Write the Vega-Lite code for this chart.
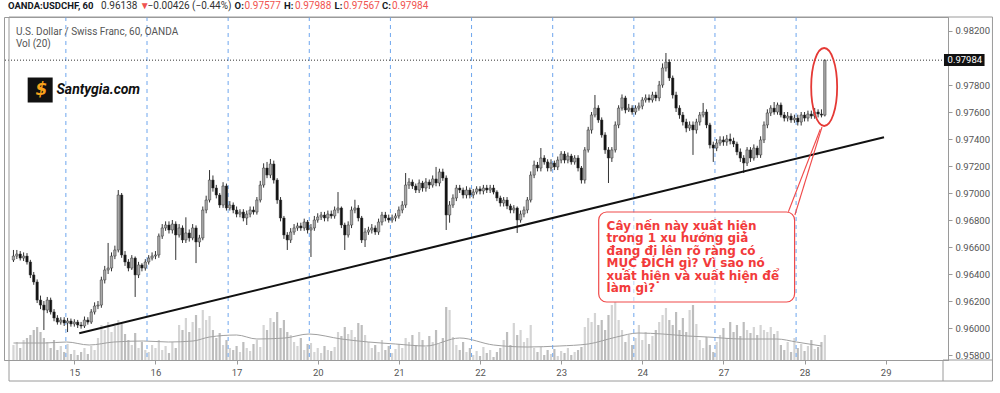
{
"$schema":"https://vega.github.io/schema/vega-lite/v6.json",
"width":944,"height":343,
"autosize":{"type":"none"},
"padding":{"left":4,"top":17,"right":52,"bottom":33},
"background":"#ffffff",
"config":{"view":{"stroke":"#9a9a9a","strokeWidth":1},"axis":{"grid":false,"domainColor":"#9a9a9a","tickColor":"#9a9a9a","labelColor":"#555555","labelFont":"Roboto","labelFontSize":9.5,"tickSize":4}},
"datasets":{
"k":[
{"h":-18,"o":0.96504,"hi":0.96578,"lo":0.96489,"c":0.96533,"v":15},
{"h":-17,"o":0.96533,"hi":0.96578,"lo":0.96511,"c":0.96548,"v":18},
{"h":-16,"o":0.96548,"hi":0.96570,"lo":0.96500,"c":0.96518,"v":12},
{"h":-15,"o":0.96518,"hi":0.96560,"lo":0.96496,"c":0.96533,"v":20},
{"h":-14,"o":0.96533,"hi":0.96555,"lo":0.96470,"c":0.96489,"v":22},
{"h":-13,"o":0.96489,"hi":0.96505,"lo":0.96370,"c":0.96393,"v":25},
{"h":-12,"o":0.96393,"hi":0.96415,"lo":0.96320,"c":0.96341,"v":30},
{"h":-11,"o":0.96341,"hi":0.96360,"lo":0.96185,"c":0.96207,"v":33},
{"h":-10,"o":0.96207,"hi":0.96240,"lo":0.96140,"c":0.96170,"v":28},
{"h":-9,"o":0.96170,"hi":0.96200,"lo":0.95985,"c":0.96133,"v":22},
{"h":-8,"o":0.96133,"hi":0.96230,"lo":0.96110,"c":0.96207,"v":18},
{"h":-7,"o":0.96207,"hi":0.96225,"lo":0.96100,"c":0.96119,"v":12},
{"h":-6,"o":0.96119,"hi":0.96140,"lo":0.96050,"c":0.96074,"v":20},
{"h":-5,"o":0.96074,"hi":0.96095,"lo":0.96025,"c":0.96044,"v":10},
{"h":-4,"o":0.96044,"hi":0.96080,"lo":0.96025,"c":0.96059,"v":14},
{"h":-3,"o":0.96059,"hi":0.96080,"lo":0.96015,"c":0.96037,"v":8},
{"h":-2,"o":0.96037,"hi":0.96075,"lo":0.95970,"c":0.96052,"v":16},
{"h":-1,"o":0.96052,"hi":0.96070,"lo":0.96010,"c":0.96030,"v":6},
{"h":0,"o":0.96030,"hi":0.96065,"lo":0.96010,"c":0.96044,"v":10},
{"h":1,"o":0.96044,"hi":0.96060,"lo":0.96000,"c":0.96022,"v":5},
{"h":2,"o":0.96022,"hi":0.96045,"lo":0.95995,"c":0.96015,"v":8},
{"h":3,"o":0.96015,"hi":0.96085,"lo":0.96000,"c":0.96059,"v":12},
{"h":4,"o":0.96059,"hi":0.96080,"lo":0.96025,"c":0.96044,"v":6},
{"h":5,"o":0.96044,"hi":0.96140,"lo":0.96030,"c":0.96119,"v":14},
{"h":6,"o":0.96119,"hi":0.96190,"lo":0.96100,"c":0.96163,"v":10},
{"h":7,"o":0.96163,"hi":0.96200,"lo":0.96140,"c":0.96170,"v":22},
{"h":8,"o":0.96170,"hi":0.96380,"lo":0.96150,"c":0.96356,"v":35},
{"h":9,"o":0.96356,"hi":0.96460,"lo":0.96330,"c":0.96430,"v":30},
{"h":10,"o":0.96430,"hi":0.96630,"lo":0.96400,"c":0.96444,"v":38},
{"h":11,"o":0.96444,"hi":0.96560,"lo":0.96420,"c":0.96533,"v":28},
{"h":12,"o":0.96533,"hi":0.96610,"lo":0.96510,"c":0.96578,"v":34},
{"h":13,"o":0.96578,"hi":0.97022,"lo":0.96560,"c":0.96985,"v":40},
{"h":14,"o":0.96985,"hi":0.97000,"lo":0.96520,"c":0.96541,"v":36},
{"h":15,"o":0.96541,"hi":0.96570,"lo":0.96460,"c":0.96489,"v":26},
{"h":16,"o":0.96489,"hi":0.96510,"lo":0.96420,"c":0.96444,"v":20},
{"h":17,"o":0.96444,"hi":0.96540,"lo":0.96430,"c":0.96518,"v":15},
{"h":18,"o":0.96518,"hi":0.96530,"lo":0.96230,"c":0.96393,"v":27},
{"h":19,"o":0.96393,"hi":0.96490,"lo":0.96370,"c":0.96467,"v":12},
{"h":20,"o":0.96467,"hi":0.96480,"lo":0.96420,"c":0.96444,"v":18},
{"h":21,"o":0.96444,"hi":0.96510,"lo":0.96425,"c":0.96489,"v":10},
{"h":22,"o":0.96489,"hi":0.96540,"lo":0.96470,"c":0.96518,"v":8},
{"h":23,"o":0.96518,"hi":0.96560,"lo":0.96500,"c":0.96533,"v":15},
{"h":24,"o":0.96533,"hi":0.96570,"lo":0.96510,"c":0.96541,"v":12},
{"h":25,"o":0.96541,"hi":0.96700,"lo":0.96520,"c":0.96681,"v":20},
{"h":26,"o":0.96681,"hi":0.96770,"lo":0.96660,"c":0.96741,"v":10},
{"h":27,"o":0.96741,"hi":0.96790,"lo":0.96720,"c":0.96763,"v":14},
{"h":28,"o":0.96763,"hi":0.96790,"lo":0.96700,"c":0.96726,"v":7},
{"h":29,"o":0.96726,"hi":0.96800,"lo":0.96700,"c":0.96770,"v":18},
{"h":30,"o":0.96770,"hi":0.96790,"lo":0.96504,"c":0.96689,"v":12},
{"h":31,"o":0.96689,"hi":0.96770,"lo":0.96670,"c":0.96741,"v":35},
{"h":32,"o":0.96741,"hi":0.96760,"lo":0.96630,"c":0.96652,"v":30},
{"h":33,"o":0.96652,"hi":0.96820,"lo":0.96630,"c":0.96704,"v":42},
{"h":34,"o":0.96704,"hi":0.96730,"lo":0.96640,"c":0.96667,"v":28},
{"h":35,"o":0.96667,"hi":0.96770,"lo":0.96650,"c":0.96741,"v":38},
{"h":36,"o":0.96741,"hi":0.96760,"lo":0.96481,"c":0.96637,"v":45},
{"h":37,"o":0.96637,"hi":0.96690,"lo":0.96600,"c":0.96667,"v":32},
{"h":38,"o":0.96667,"hi":0.96900,"lo":0.96650,"c":0.96874,"v":50},
{"h":39,"o":0.96874,"hi":0.96980,"lo":0.96850,"c":0.96948,"v":40},
{"h":40,"o":0.96948,"hi":0.97170,"lo":0.96930,"c":0.97096,"v":44},
{"h":41,"o":0.97096,"hi":0.97130,"lo":0.97010,"c":0.97037,"v":30},
{"h":42,"o":0.97037,"hi":0.97060,"lo":0.96960,"c":0.96985,"v":22},
{"h":43,"o":0.96985,"hi":0.97000,"lo":0.96890,"c":0.96911,"v":27},
{"h":44,"o":0.96911,"hi":0.97080,"lo":0.96890,"c":0.97052,"v":15},
{"h":45,"o":0.97052,"hi":0.97070,"lo":0.96870,"c":0.96889,"v":20},
{"h":46,"o":0.96889,"hi":0.96940,"lo":0.96870,"c":0.96911,"v":12},
{"h":47,"o":0.96911,"hi":0.96930,"lo":0.96850,"c":0.96874,"v":10},
{"h":48,"o":0.96874,"hi":0.96900,"lo":0.96820,"c":0.96844,"v":14},
{"h":49,"o":0.96844,"hi":0.96880,"lo":0.96820,"c":0.96859,"v":8},
{"h":50,"o":0.96859,"hi":0.96880,"lo":0.96790,"c":0.96815,"v":18},
{"h":51,"o":0.96815,"hi":0.96870,"lo":0.96763,"c":0.96844,"v":12},
{"h":52,"o":0.96844,"hi":0.96900,"lo":0.96820,"c":0.96874,"v":9},
{"h":53,"o":0.96874,"hi":0.96900,"lo":0.96840,"c":0.96859,"v":16},
{"h":54,"o":0.96859,"hi":0.96970,"lo":0.96840,"c":0.96948,"v":20},
{"h":55,"o":0.96948,"hi":0.97090,"lo":0.96930,"c":0.97059,"v":13},
{"h":56,"o":0.97059,"hi":0.97220,"lo":0.97040,"c":0.97185,"v":35},
{"h":57,"o":0.97185,"hi":0.97230,"lo":0.97110,"c":0.97133,"v":30},
{"h":58,"o":0.97133,"hi":0.97252,"lo":0.97110,"c":0.97215,"v":42},
{"h":59,"o":0.97215,"hi":0.97240,"lo":0.97070,"c":0.97096,"v":38},
{"h":60,"o":0.97096,"hi":0.97110,"lo":0.96920,"c":0.96948,"v":48},
{"h":61,"o":0.96948,"hi":0.96970,"lo":0.96790,"c":0.96815,"v":32},
{"h":62,"o":0.96815,"hi":0.96830,"lo":0.96660,"c":0.96689,"v":40},
{"h":63,"o":0.96689,"hi":0.96710,"lo":0.96578,"c":0.96652,"v":28},
{"h":64,"o":0.96652,"hi":0.96740,"lo":0.96630,"c":0.96711,"v":25},
{"h":65,"o":0.96711,"hi":0.96770,"lo":0.96690,"c":0.96741,"v":18},
{"h":66,"o":0.96741,"hi":0.96780,"lo":0.96720,"c":0.96756,"v":14},
{"h":67,"o":0.96756,"hi":0.96780,"lo":0.96720,"c":0.96741,"v":22},
{"h":68,"o":0.96741,"hi":0.96810,"lo":0.96720,"c":0.96785,"v":10},
{"h":69,"o":0.96785,"hi":0.96800,"lo":0.96700,"c":0.96726,"v":16},
{"h":70,"o":0.96726,"hi":0.96770,"lo":0.96526,"c":0.96741,"v":17},
{"h":71,"o":0.96741,"hi":0.96830,"lo":0.96720,"c":0.96800,"v":8},
{"h":72,"o":0.96800,"hi":0.96850,"lo":0.96780,"c":0.96822,"v":12},
{"h":73,"o":0.96822,"hi":0.96860,"lo":0.96800,"c":0.96837,"v":7},
{"h":74,"o":0.96837,"hi":0.96860,"lo":0.96790,"c":0.96815,"v":14},
{"h":75,"o":0.96815,"hi":0.96870,"lo":0.96790,"c":0.96844,"v":10},
{"h":76,"o":0.96844,"hi":0.96870,"lo":0.96810,"c":0.96830,"v":9},
{"h":77,"o":0.96830,"hi":0.96900,"lo":0.96810,"c":0.96874,"v":13},
{"h":78,"o":0.96874,"hi":0.97007,"lo":0.96850,"c":0.96889,"v":28},
{"h":79,"o":0.96889,"hi":0.96900,"lo":0.96740,"c":0.96763,"v":24},
{"h":80,"o":0.96763,"hi":0.96780,"lo":0.96578,"c":0.96689,"v":33},
{"h":81,"o":0.96689,"hi":0.96790,"lo":0.96670,"c":0.96763,"v":26},
{"h":82,"o":0.96763,"hi":0.96900,"lo":0.96740,"c":0.96874,"v":30},
{"h":83,"o":0.96874,"hi":0.96950,"lo":0.96850,"c":0.96889,"v":23},
{"h":84,"o":0.96889,"hi":0.96910,"lo":0.96790,"c":0.96815,"v":37},
{"h":85,"o":0.96815,"hi":0.96830,"lo":0.96630,"c":0.96652,"v":35},
{"h":86,"o":0.96652,"hi":0.96740,"lo":0.96600,"c":0.96711,"v":25},
{"h":87,"o":0.96711,"hi":0.96750,"lo":0.96690,"c":0.96726,"v":18},
{"h":88,"o":0.96726,"hi":0.96770,"lo":0.96700,"c":0.96741,"v":12},
{"h":89,"o":0.96741,"hi":0.96760,"lo":0.96690,"c":0.96711,"v":15},
{"h":90,"o":0.96711,"hi":0.96810,"lo":0.96690,"c":0.96785,"v":8},
{"h":91,"o":0.96785,"hi":0.96860,"lo":0.96760,"c":0.96837,"v":20},
{"h":92,"o":0.96837,"hi":0.96860,"lo":0.96790,"c":0.96815,"v":10},
{"h":93,"o":0.96815,"hi":0.96840,"lo":0.96780,"c":0.96800,"v":14},
{"h":94,"o":0.96800,"hi":0.96840,"lo":0.96780,"c":0.96815,"v":7},
{"h":95,"o":0.96815,"hi":0.96850,"lo":0.96790,"c":0.96830,"v":11},
{"h":96,"o":0.96830,"hi":0.96900,"lo":0.96810,"c":0.96874,"v":16},
{"h":97,"o":0.96874,"hi":0.96940,"lo":0.96850,"c":0.96911,"v":12},
{"h":98,"o":0.96911,"hi":0.97148,"lo":0.96890,"c":0.97059,"v":22},
{"h":99,"o":0.97059,"hi":0.97110,"lo":0.97030,"c":0.97081,"v":18},
{"h":100,"o":0.97081,"hi":0.97100,"lo":0.97030,"c":0.97052,"v":25},
{"h":101,"o":0.97052,"hi":0.97070,"lo":0.97000,"c":0.97022,"v":15},
{"h":102,"o":0.97022,"hi":0.97100,"lo":0.97000,"c":0.97074,"v":28},
{"h":103,"o":0.97074,"hi":0.97090,"lo":0.97010,"c":0.97037,"v":20},
{"h":104,"o":0.97037,"hi":0.97110,"lo":0.97010,"c":0.97081,"v":13},
{"h":105,"o":0.97081,"hi":0.97100,"lo":0.97030,"c":0.97059,"v":24},
{"h":106,"o":0.97059,"hi":0.97130,"lo":0.97040,"c":0.97104,"v":18},
{"h":107,"o":0.97104,"hi":0.97193,"lo":0.97050,"c":0.97074,"v":30},
{"h":108,"o":0.97074,"hi":0.97180,"lo":0.97050,"c":0.97156,"v":16},
{"h":109,"o":0.97156,"hi":0.97180,"lo":0.97090,"c":0.97111,"v":22},
{"h":110,"o":0.97111,"hi":0.97130,"lo":0.96726,"c":0.96837,"v":53},
{"h":111,"o":0.96837,"hi":0.96940,"lo":0.96780,"c":0.96911,"v":50},
{"h":112,"o":0.96911,"hi":0.96990,"lo":0.96890,"c":0.96963,"v":23},
{"h":113,"o":0.96963,"hi":0.97060,"lo":0.96940,"c":0.97037,"v":15},
{"h":114,"o":0.97037,"hi":0.97060,"lo":0.97000,"c":0.97022,"v":10},
{"h":115,"o":0.97022,"hi":0.97040,"lo":0.96960,"c":0.96985,"v":18},
{"h":116,"o":0.96985,"hi":0.97050,"lo":0.96960,"c":0.97022,"v":8},
{"h":117,"o":0.97022,"hi":0.97040,"lo":0.96960,"c":0.96985,"v":12},
{"h":118,"o":0.96985,"hi":0.97030,"lo":0.96960,"c":0.97007,"v":5},
{"h":119,"o":0.97007,"hi":0.97050,"lo":0.96990,"c":0.97030,"v":9},
{"h":120,"o":0.97030,"hi":0.97050,"lo":0.96990,"c":0.97015,"v":4},
{"h":121,"o":0.97015,"hi":0.97060,"lo":0.96990,"c":0.97037,"v":13},
{"h":122,"o":0.97037,"hi":0.97060,"lo":0.97000,"c":0.97022,"v":7},
{"h":123,"o":0.97022,"hi":0.97060,"lo":0.97000,"c":0.97037,"v":10},
{"h":124,"o":0.97037,"hi":0.97060,"lo":0.96990,"c":0.97007,"v":3},
{"h":125,"o":0.97007,"hi":0.97020,"lo":0.96940,"c":0.96963,"v":8},
{"h":126,"o":0.96963,"hi":0.96980,"lo":0.96900,"c":0.96926,"v":12},
{"h":127,"o":0.96926,"hi":0.96970,"lo":0.96900,"c":0.96948,"v":20},
{"h":128,"o":0.96948,"hi":0.96970,"lo":0.96880,"c":0.96904,"v":28},
{"h":129,"o":0.96904,"hi":0.96920,"lo":0.96850,"c":0.96874,"v":15},
{"h":130,"o":0.96874,"hi":0.96910,"lo":0.96850,"c":0.96889,"v":37},
{"h":131,"o":0.96889,"hi":0.96900,"lo":0.96704,"c":0.96800,"v":25},
{"h":132,"o":0.96800,"hi":0.96870,"lo":0.96780,"c":0.96844,"v":30},
{"h":133,"o":0.96844,"hi":0.96900,"lo":0.96820,"c":0.96874,"v":18},
{"h":134,"o":0.96874,"hi":0.96970,"lo":0.96850,"c":0.96948,"v":22},
{"h":135,"o":0.96948,"hi":0.97160,"lo":0.96930,"c":0.97133,"v":35},
{"h":136,"o":0.97133,"hi":0.97240,"lo":0.97110,"c":0.97207,"v":12},
{"h":137,"o":0.97207,"hi":0.97230,"lo":0.97160,"c":0.97185,"v":8},
{"h":138,"o":0.97185,"hi":0.97333,"lo":0.97160,"c":0.97259,"v":13},
{"h":139,"o":0.97259,"hi":0.97280,"lo":0.97210,"c":0.97230,"v":5},
{"h":140,"o":0.97230,"hi":0.97250,"lo":0.97160,"c":0.97185,"v":10},
{"h":141,"o":0.97185,"hi":0.97250,"lo":0.97160,"c":0.97222,"v":6},
{"h":142,"o":0.97222,"hi":0.97240,"lo":0.97170,"c":0.97193,"v":11},
{"h":143,"o":0.97193,"hi":0.97270,"lo":0.97170,"c":0.97244,"v":4},
{"h":144,"o":0.97244,"hi":0.97310,"lo":0.97220,"c":0.97289,"v":9},
{"h":145,"o":0.97289,"hi":0.97310,"lo":0.97220,"c":0.97244,"v":7},
{"h":146,"o":0.97244,"hi":0.97300,"lo":0.97220,"c":0.97274,"v":12},
{"h":147,"o":0.97274,"hi":0.97290,"lo":0.97210,"c":0.97230,"v":5},
{"h":148,"o":0.97230,"hi":0.97280,"lo":0.97210,"c":0.97259,"v":8},
{"h":149,"o":0.97259,"hi":0.97280,"lo":0.97160,"c":0.97185,"v":10},
{"h":150,"o":0.97185,"hi":0.97200,"lo":0.97070,"c":0.97096,"v":13},
{"h":151,"o":0.97096,"hi":0.97340,"lo":0.97070,"c":0.97319,"v":33},
{"h":152,"o":0.97319,"hi":0.97490,"lo":0.97300,"c":0.97467,"v":42},
{"h":153,"o":0.97467,"hi":0.97600,"lo":0.97440,"c":0.97578,"v":38},
{"h":154,"o":0.97578,"hi":0.97726,"lo":0.97560,"c":0.97629,"v":47},
{"h":155,"o":0.97629,"hi":0.97650,"lo":0.97520,"c":0.97541,"v":35},
{"h":156,"o":0.97541,"hi":0.97560,"lo":0.97410,"c":0.97430,"v":40},
{"h":157,"o":0.97430,"hi":0.97450,"lo":0.97290,"c":0.97319,"v":30},
{"h":158,"o":0.97319,"hi":0.97340,"lo":0.97074,"c":0.97259,"v":45},
{"h":159,"o":0.97259,"hi":0.97340,"lo":0.97230,"c":0.97319,"v":55},
{"h":160,"o":0.97319,"hi":0.97530,"lo":0.97300,"c":0.97504,"v":58},
{"h":161,"o":0.97504,"hi":0.97650,"lo":0.97480,"c":0.97629,"v":40},
{"h":162,"o":0.97629,"hi":0.97730,"lo":0.97610,"c":0.97704,"v":30},
{"h":163,"o":0.97704,"hi":0.97720,"lo":0.97590,"c":0.97615,"v":18},
{"h":164,"o":0.97615,"hi":0.97660,"lo":0.97600,"c":0.97629,"v":25},
{"h":165,"o":0.97629,"hi":0.97650,"lo":0.97580,"c":0.97600,"v":15},
{"h":166,"o":0.97600,"hi":0.97650,"lo":0.97580,"c":0.97629,"v":22},
{"h":167,"o":0.97629,"hi":0.97670,"lo":0.97610,"c":0.97644,"v":35},
{"h":168,"o":0.97644,"hi":0.97710,"lo":0.97620,"c":0.97689,"v":20},
{"h":169,"o":0.97689,"hi":0.97730,"lo":0.97670,"c":0.97704,"v":28},
{"h":170,"o":0.97704,"hi":0.97730,"lo":0.97670,"c":0.97689,"v":16},
{"h":171,"o":0.97689,"hi":0.97750,"lo":0.97670,"c":0.97726,"v":24},
{"h":172,"o":0.97726,"hi":0.97750,"lo":0.97680,"c":0.97704,"v":30},
{"h":173,"o":0.97704,"hi":0.97830,"lo":0.97680,"c":0.97800,"v":38},
{"h":174,"o":0.97800,"hi":0.97960,"lo":0.97780,"c":0.97926,"v":45},
{"h":175,"o":0.97926,"hi":0.98037,"lo":0.97900,"c":0.97970,"v":52},
{"h":176,"o":0.97970,"hi":0.97990,"lo":0.97830,"c":0.97852,"v":40},
{"h":177,"o":0.97852,"hi":0.97870,"lo":0.97700,"c":0.97726,"v":35},
{"h":178,"o":0.97726,"hi":0.97750,"lo":0.97600,"c":0.97629,"v":48},
{"h":179,"o":0.97629,"hi":0.97650,"lo":0.97550,"c":0.97578,"v":30},
{"h":180,"o":0.97578,"hi":0.97600,"lo":0.97500,"c":0.97526,"v":42},
{"h":181,"o":0.97526,"hi":0.97550,"lo":0.97450,"c":0.97481,"v":28},
{"h":182,"o":0.97481,"hi":0.97530,"lo":0.97460,"c":0.97504,"v":50},
{"h":183,"o":0.97504,"hi":0.97530,"lo":0.97282,"c":0.97467,"v":55},
{"h":184,"o":0.97467,"hi":0.97550,"lo":0.97440,"c":0.97526,"v":36},
{"h":185,"o":0.97526,"hi":0.97600,"lo":0.97500,"c":0.97578,"v":20},
{"h":186,"o":0.97578,"hi":0.97667,"lo":0.97560,"c":0.97600,"v":12},
{"h":187,"o":0.97600,"hi":0.97620,"lo":0.97480,"c":0.97504,"v":23},
{"h":188,"o":0.97504,"hi":0.97520,"lo":0.97330,"c":0.97356,"v":15},
{"h":189,"o":0.97356,"hi":0.97380,"lo":0.97230,"c":0.97333,"v":8},
{"h":190,"o":0.97333,"hi":0.97400,"lo":0.97310,"c":0.97370,"v":18},
{"h":191,"o":0.97370,"hi":0.97420,"lo":0.97350,"c":0.97393,"v":25},
{"h":192,"o":0.97393,"hi":0.97420,"lo":0.97350,"c":0.97378,"v":32},
{"h":193,"o":0.97378,"hi":0.97430,"lo":0.97350,"c":0.97400,"v":22},
{"h":194,"o":0.97400,"hi":0.97440,"lo":0.97360,"c":0.97385,"v":38},
{"h":195,"o":0.97385,"hi":0.97410,"lo":0.97340,"c":0.97363,"v":28},
{"h":196,"o":0.97363,"hi":0.97380,"lo":0.97280,"c":0.97304,"v":35},
{"h":197,"o":0.97304,"hi":0.97330,"lo":0.97230,"c":0.97259,"v":24},
{"h":198,"o":0.97259,"hi":0.97280,"lo":0.97148,"c":0.97222,"v":38},
{"h":199,"o":0.97222,"hi":0.97340,"lo":0.97200,"c":0.97319,"v":30},
{"h":200,"o":0.97319,"hi":0.97340,"lo":0.97230,"c":0.97259,"v":27},
{"h":201,"o":0.97259,"hi":0.97360,"lo":0.97240,"c":0.97333,"v":33},
{"h":202,"o":0.97333,"hi":0.97350,"lo":0.97260,"c":0.97282,"v":25},
{"h":203,"o":0.97282,"hi":0.97420,"lo":0.97260,"c":0.97393,"v":35},
{"h":204,"o":0.97393,"hi":0.97530,"lo":0.97370,"c":0.97504,"v":30},
{"h":205,"o":0.97504,"hi":0.97620,"lo":0.97480,"c":0.97593,"v":28},
{"h":206,"o":0.97593,"hi":0.97650,"lo":0.97570,"c":0.97629,"v":33},
{"h":207,"o":0.97629,"hi":0.97674,"lo":0.97580,"c":0.97600,"v":26},
{"h":208,"o":0.97600,"hi":0.97670,"lo":0.97580,"c":0.97652,"v":29},
{"h":209,"o":0.97652,"hi":0.97670,"lo":0.97560,"c":0.97578,"v":15},
{"h":210,"o":0.97578,"hi":0.97600,"lo":0.97530,"c":0.97555,"v":10},
{"h":211,"o":0.97555,"hi":0.97600,"lo":0.97530,"c":0.97570,"v":18},
{"h":212,"o":0.97570,"hi":0.97590,"lo":0.97520,"c":0.97541,"v":8},
{"h":213,"o":0.97541,"hi":0.97580,"lo":0.97520,"c":0.97555,"v":22},
{"h":214,"o":0.97555,"hi":0.97580,"lo":0.97500,"c":0.97526,"v":12},
{"h":215,"o":0.97526,"hi":0.97600,"lo":0.97500,"c":0.97578,"v":16},
{"h":216,"o":0.97578,"hi":0.97600,"lo":0.97530,"c":0.97555,"v":9},
{"h":217,"o":0.97555,"hi":0.97610,"lo":0.97530,"c":0.97585,"v":14},
{"h":218,"o":0.97585,"hi":0.97610,"lo":0.97550,"c":0.97570,"v":20},
{"h":219,"o":0.97570,"hi":0.97630,"lo":0.97550,"c":0.97600,"v":11},
{"h":220,"o":0.97600,"hi":0.97620,"lo":0.97560,"c":0.97585,"v":13},
{"h":221,"o":0.97585,"hi":0.97620,"lo":0.97560,"c":0.97577,"v":18},
{"h":222,"o":0.97577,"hi":0.97988,"lo":0.97567,"c":0.97984,"v":25}
],
"ma":[
{"h":-18,"m":17},{"h":-8.8,"m":17},{"h":-2.3,"m":18},{"h":4.4,"m":15},{"h":11.7,"m":18},{"h":20.5,"m":19},{"h":27.8,"m":18},{"h":35.1,"m":19},{"h":40,"m":23},{"h":48,"m":25},{"h":54,"m":21},{"h":62.3,"m":22},{"h":69.4,"m":26},{"h":79,"m":21},{"h":87,"m":18},{"h":95,"m":16},{"h":104,"m":14},{"h":114,"m":22},{"h":124,"m":15},{"h":134,"m":13},{"h":143.4,"m":14},{"h":152,"m":16},{"h":160.4,"m":23},{"h":166.8,"m":27},{"h":174,"m":26},{"h":181.4,"m":24},{"h":187.3,"m":23},{"h":197.5,"m":21},{"h":207.8,"m":21},{"h":213.6,"m":18},{"h":221,"m":14}
],
"sess":[{"h":-2.5},{"h":21.5},{"h":45.5},{"h":69.5},{"h":93.5},{"h":117.5},{"h":141.5},{"h":165.5},{"h":189.5},{"h":213.5}],
"trend":[{"h":1.46,"p":0.959607},{"h":239.5,"p":0.974126}],
"ptr":[{"g":1,"h":211.21,"p":0.968615},{"g":1,"h":220.66,"p":0.974718},{"g":2,"h":213.14,"p":0.96837},{"g":2,"h":221.16,"p":0.974889}],
"hbold":[{"x":-19.61,"t":"OANDA:USDCHF, 60"},{"x":47.41,"t":"O:"},{"x":62.04,"t":"H:"},{"x":76.97,"t":"L:"},{"x":91.02,"t":"C:"}],
"hnorm":[{"x":7.9,"t":"0.96138"},{"x":21.66,"t":"−0.00426 (−0.44%)"}],
"hred":[{"x":19.32,"t":"▼"},{"x":50.34,"t":"0.97577"},{"x":65.26,"t":"0.97988"},{"x":79.6,"t":"0.97567"},{"x":93.94,"t":"0.97984"}],
"leg":[{"x":-17.27,"p":0.981926,"t":"U.S. Dollar / Swiss Franc, 60, OANDA"},{"x":-17.27,"p":0.981037,"t":"Vol (20)"}]
},
"layer":[
{"data":{"name":"k"},"layer":[
 {"mark":{"type":"bar","width":2.2},"encoding":{
  "x":{"field":"h","type":"quantitative","scale":{"domain":[-19.32,256.95],"nice":false,"zero":false},"axis":{"values":[0,24,48,72,96,120,144,168,192,216,240],"labelExpr":"['15','16','17','20','21','22','23','24','27','28','29'][round(datum.value/24)]","labelPadding":3,"title":null}},
  "y":{"field":"v","type":"quantitative","scale":{"domain":[0,343],"nice":false,"zero":true},"axis":null},
  "color":{"condition":{"test":"datum.c >= datum.o","value":"#d4d4d4"},"value":"#bdbdbd"}}},
 {"data":{"name":"ma"},"mark":{"type":"line","color":"#a0a0a0","strokeWidth":1,"interpolate":"monotone"},"encoding":{
  "x":{"field":"h","type":"quantitative","scale":{"domain":[-19.32,256.95],"nice":false,"zero":false},"axis":{"values":[0,24,48,72,96,120,144,168,192,216,240],"labelExpr":"['15','16','17','20','21','22','23','24','27','28','29'][round(datum.value/24)]","labelPadding":3,"title":null}},
  "y":{"field":"m","type":"quantitative","scale":{"domain":[0,343],"nice":false,"zero":true},"axis":null}}}
]},
{"layer":[
 {"data":{"name":"sess"},"mark":{"type":"rule","color":"#6ea6ee","strokeDash":[4,4],"strokeWidth":1},"encoding":{
  "x":{"field":"h","type":"quantitative","scale":{"domain":[-19.32,256.95],"nice":false,"zero":false},"axis":{"values":[0,24,48,72,96,120,144,168,192,216,240],"labelExpr":"['15','16','17','20','21','22','23','24','27','28','29'][round(datum.value/24)]","labelPadding":3,"title":null}}}},
 {"data":{"name":"k"},"mark":{"type":"rule","color":"#333333","strokeWidth":1},"encoding":{
  "x":{"field":"h","type":"quantitative","scale":{"domain":[-19.32,256.95],"nice":false,"zero":false},"axis":{"values":[0,24,48,72,96,120,144,168,192,216,240],"labelExpr":"['15','16','17','20','21','22','23','24','27','28','29'][round(datum.value/24)]","labelPadding":3,"title":null}},
  "y":{"field":"lo","type":"quantitative","scale":{"domain":[0.95763,0.983037],"nice":false,"zero":false},"axis":{"orient":"right","values":[0.958,0.96,0.962,0.964,0.966,0.968,0.97,0.972,0.974,0.976,0.978,0.982],"format":".5f","labelPadding":3,"title":null}},
  "y2":{"field":"hi"}}},
 {"data":{"name":"k"},"mark":{"type":"bar","width":2.4,"stroke":"#333333","strokeWidth":0.5},"encoding":{
  "x":{"field":"h","type":"quantitative","scale":{"domain":[-19.32,256.95],"nice":false,"zero":false},"axis":{"values":[0,24,48,72,96,120,144,168,192,216,240],"labelExpr":"['15','16','17','20','21','22','23','24','27','28','29'][round(datum.value/24)]","labelPadding":3,"title":null}},
  "y":{"field":"o","type":"quantitative","scale":{"domain":[0.95763,0.983037],"nice":false,"zero":false},"axis":{"orient":"right","values":[0.958,0.96,0.962,0.964,0.966,0.968,0.97,0.972,0.974,0.976,0.978,0.982],"format":".5f","labelPadding":3,"title":null}},
  "y2":{"field":"c"},
  "fill":{"condition":{"test":"datum.c >= datum.o","value":"#a8a8a8"},"value":"#111111"}}},
 {"data":{"values":[{"p":0.97984}]},"mark":{"type":"rule","color":"#333333","strokeDash":[1,2],"strokeWidth":1},"encoding":{
  "y":{"field":"p","type":"quantitative","scale":{"domain":[0.95763,0.983037],"nice":false,"zero":false},"axis":{"orient":"right","values":[0.958,0.96,0.962,0.964,0.966,0.968,0.97,0.972,0.974,0.976,0.978,0.982],"format":".5f","labelPadding":3,"title":null}}}},
 {"data":{"name":"trend"},"mark":{"type":"line","color":"#111111","strokeWidth":2},"encoding":{
  "x":{"field":"h","type":"quantitative","scale":{"domain":[-19.32,256.95],"nice":false,"zero":false},"axis":{"values":[0,24,48,72,96,120,144,168,192,216,240],"labelExpr":"['15','16','17','20','21','22','23','24','27','28','29'][round(datum.value/24)]","labelPadding":3,"title":null}},
  "y":{"field":"p","type":"quantitative","scale":{"domain":[0.95763,0.983037],"nice":false,"zero":false},"axis":{"orient":"right","values":[0.958,0.96,0.962,0.964,0.966,0.968,0.97,0.972,0.974,0.976,0.978,0.982],"format":".5f","labelPadding":3,"title":null}}}},
 {"data":{"values":[{"h":221.8,"p":0.977852}]},"mark":{"type":"point","shape":"M-0.333,0A0.333,1,0,1,0,0.333,0A0.333,1,0,1,0,-0.333,0","size":6084,"filled":false,"stroke":"#e53935","strokeWidth":1.8,"opacity":1},"encoding":{
  "x":{"field":"h","type":"quantitative","scale":{"domain":[-19.32,256.95],"nice":false,"zero":false},"axis":{"values":[0,24,48,72,96,120,144,168,192,216,240],"labelExpr":"['15','16','17','20','21','22','23','24','27','28','29'][round(datum.value/24)]","labelPadding":3,"title":null}},
  "y":{"field":"p","type":"quantitative","scale":{"domain":[0.95763,0.983037],"nice":false,"zero":false},"axis":{"orient":"right","values":[0.958,0.96,0.962,0.964,0.966,0.968,0.97,0.972,0.974,0.976,0.978,0.982],"format":".5f","labelPadding":3,"title":null}}}},
 {"data":{"values":[{"x1":155.11,"x2":213.05,"y1":0.968593,"y2":0.961926}]},"mark":{"type":"rect","cornerRadius":8,"fill":"#ffffff","fillOpacity":0.55,"stroke":"#f04a4a","strokeWidth":1.2},"encoding":{
  "x":{"field":"x1","type":"quantitative","scale":{"domain":[-19.32,256.95],"nice":false,"zero":false},"axis":{"values":[0,24,48,72,96,120,144,168,192,216,240],"labelExpr":"['15','16','17','20','21','22','23','24','27','28','29'][round(datum.value/24)]","labelPadding":3,"title":null}},"x2":{"field":"x2"},
  "y":{"field":"y1","type":"quantitative","scale":{"domain":[0.95763,0.983037],"nice":false,"zero":false},"axis":{"orient":"right","values":[0.958,0.96,0.962,0.964,0.966,0.968,0.97,0.972,0.974,0.976,0.978,0.982],"format":".5f","labelPadding":3,"title":null}},"y2":{"field":"y2"}}},
 {"data":{"name":"ptr"},"mark":{"type":"line","color":"#f04a4a","strokeWidth":1.1},"encoding":{
  "x":{"field":"h","type":"quantitative","scale":{"domain":[-19.32,256.95],"nice":false,"zero":false},"axis":{"values":[0,24,48,72,96,120,144,168,192,216,240],"labelExpr":"['15','16','17','20','21','22','23','24','27','28','29'][round(datum.value/24)]","labelPadding":3,"title":null}},
  "y":{"field":"p","type":"quantitative","scale":{"domain":[0.95763,0.983037],"nice":false,"zero":false},"axis":{"orient":"right","values":[0.958,0.96,0.962,0.964,0.966,0.968,0.97,0.972,0.974,0.976,0.978,0.982],"format":".5f","labelPadding":3,"title":null}},
  "detail":{"field":"g","type":"nominal"}}},
 {"data":{"values":[{"h":157.45,"p":0.967259,"t":"Cây nến này xuất hiện\ntrong 1 xu hướng giá\nđang đi lên rõ ràng có\nMỤC ĐÍCH gì? Vì sao nó\nxuất hiện và xuất hiện để\nlàm gì?"}]},
  "mark":{"type":"text","align":"left","baseline":"alphabetic","font":"DejaVu Sans","fontWeight":"bold","fontSize":12,"lineBreak":"\n","lineHeight":12.4,"color":"#f23b3b"},"encoding":{
  "x":{"field":"h","type":"quantitative","scale":{"domain":[-19.32,256.95],"nice":false,"zero":false},"axis":{"values":[0,24,48,72,96,120,144,168,192,216,240],"labelExpr":"['15','16','17','20','21','22','23','24','27','28','29'][round(datum.value/24)]","labelPadding":3,"title":null}},
  "y":{"field":"p","type":"quantitative","scale":{"domain":[0.95763,0.983037],"nice":false,"zero":false},"axis":{"orient":"right","values":[0.958,0.96,0.962,0.964,0.966,0.968,0.97,0.972,0.974,0.976,0.978,0.982],"format":".5f","labelPadding":3,"title":null}},
  "text":{"field":"t"}}},
 {"data":{"name":"hbold"},"mark":{"type":"text","align":"left","baseline":"middle","font":"Roboto","fontWeight":"bold","fontSize":9.5,"color":"#131722"},"encoding":{
  "x":{"field":"x","type":"quantitative","scale":{"domain":[-19.32,256.95],"nice":false,"zero":false},"axis":{"values":[0,24,48,72,96,120,144,168,192,216,240],"labelExpr":"['15','16','17','20','21','22','23','24','27','28','29'][round(datum.value/24)]","labelPadding":3,"title":null}},
  "y":{"datum":0.983852,"type":"quantitative","scale":{"domain":[0.95763,0.983037],"nice":false,"zero":false},"axis":{"orient":"right","values":[0.958,0.96,0.962,0.964,0.966,0.968,0.97,0.972,0.974,0.976,0.978,0.982],"format":".5f","labelPadding":3,"title":null}},
  "text":{"field":"t"}}},
 {"data":{"name":"hnorm"},"mark":{"type":"text","align":"left","baseline":"middle","font":"Roboto","fontSize":10,"color":"#333333"},"encoding":{
  "x":{"field":"x","type":"quantitative","scale":{"domain":[-19.32,256.95],"nice":false,"zero":false},"axis":{"values":[0,24,48,72,96,120,144,168,192,216,240],"labelExpr":"['15','16','17','20','21','22','23','24','27','28','29'][round(datum.value/24)]","labelPadding":3,"title":null}},
  "y":{"datum":0.983852,"type":"quantitative","scale":{"domain":[0.95763,0.983037],"nice":false,"zero":false},"axis":{"orient":"right","values":[0.958,0.96,0.962,0.964,0.966,0.968,0.97,0.972,0.974,0.976,0.978,0.982],"format":".5f","labelPadding":3,"title":null}},
  "text":{"field":"t"}}},
 {"data":{"name":"hred"},"mark":{"type":"text","align":"left","baseline":"middle","font":"Roboto","fontSize":10,"color":"#f05350"},"encoding":{
  "x":{"field":"x","type":"quantitative","scale":{"domain":[-19.32,256.95],"nice":false,"zero":false},"axis":{"values":[0,24,48,72,96,120,144,168,192,216,240],"labelExpr":"['15','16','17','20','21','22','23','24','27','28','29'][round(datum.value/24)]","labelPadding":3,"title":null}},
  "y":{"datum":0.983852,"type":"quantitative","scale":{"domain":[0.95763,0.983037],"nice":false,"zero":false},"axis":{"orient":"right","values":[0.958,0.96,0.962,0.964,0.966,0.968,0.97,0.972,0.974,0.976,0.978,0.982],"format":".5f","labelPadding":3,"title":null}},
  "text":{"field":"t"}}},
 {"data":{"name":"leg"},"mark":{"type":"text","align":"left","baseline":"middle","font":"Roboto","fontSize":10,"color":"#555555"},"encoding":{
  "x":{"field":"x","type":"quantitative","scale":{"domain":[-19.32,256.95],"nice":false,"zero":false},"axis":{"values":[0,24,48,72,96,120,144,168,192,216,240],"labelExpr":"['15','16','17','20','21','22','23','24','27','28','29'][round(datum.value/24)]","labelPadding":3,"title":null}},
  "y":{"field":"p","type":"quantitative","scale":{"domain":[0.95763,0.983037],"nice":false,"zero":false},"axis":{"orient":"right","values":[0.958,0.96,0.962,0.964,0.966,0.968,0.97,0.972,0.974,0.976,0.978,0.982],"format":".5f","labelPadding":3,"title":null}},
  "text":{"field":"t"}}},
 {"data":{"values":[{"h":-10.1,"p":0.977629}]},"mark":{"type":"point","shape":"square","size":625,"filled":true,"color":"#111111","opacity":1},"encoding":{
  "x":{"field":"h","type":"quantitative","scale":{"domain":[-19.32,256.95],"nice":false,"zero":false},"axis":{"values":[0,24,48,72,96,120,144,168,192,216,240],"labelExpr":"['15','16','17','20','21','22','23','24','27','28','29'][round(datum.value/24)]","labelPadding":3,"title":null}},
  "y":{"field":"p","type":"quantitative","scale":{"domain":[0.95763,0.983037],"nice":false,"zero":false},"axis":{"orient":"right","values":[0.958,0.96,0.962,0.964,0.966,0.968,0.97,0.972,0.974,0.976,0.978,0.982],"format":".5f","labelPadding":3,"title":null}}}},
 {"data":{"values":[{"h":-9.7,"p":0.977629,"t":"$"}]},"mark":{"type":"text","align":"center","baseline":"middle","font":"DejaVu Sans","fontWeight":"bold","fontStyle":"italic","fontSize":17,"color":"#f7a21b"},"encoding":{
  "x":{"field":"h","type":"quantitative","scale":{"domain":[-19.32,256.95],"nice":false,"zero":false},"axis":{"values":[0,24,48,72,96,120,144,168,192,216,240],"labelExpr":"['15','16','17','20','21','22','23','24','27','28','29'][round(datum.value/24)]","labelPadding":3,"title":null}},
  "y":{"field":"p","type":"quantitative","scale":{"domain":[0.95763,0.983037],"nice":false,"zero":false},"axis":{"orient":"right","values":[0.958,0.96,0.962,0.964,0.966,0.968,0.97,0.972,0.974,0.976,0.978,0.982],"format":".5f","labelPadding":3,"title":null}},
  "text":{"field":"t"}}},
 {"data":{"values":[{"h":-5.27,"p":0.977629,"t":"Santygia.com"}]},"mark":{"type":"text","align":"left","baseline":"middle","font":"Roboto","fontWeight":"bold","fontStyle":"italic","fontSize":14,"color":"#111111"},"encoding":{
  "x":{"field":"h","type":"quantitative","scale":{"domain":[-19.32,256.95],"nice":false,"zero":false},"axis":{"values":[0,24,48,72,96,120,144,168,192,216,240],"labelExpr":"['15','16','17','20','21','22','23','24','27','28','29'][round(datum.value/24)]","labelPadding":3,"title":null}},
  "y":{"field":"p","type":"quantitative","scale":{"domain":[0.95763,0.983037],"nice":false,"zero":false},"axis":{"orient":"right","values":[0.958,0.96,0.962,0.964,0.966,0.968,0.97,0.972,0.974,0.976,0.978,0.982],"format":".5f","labelPadding":3,"title":null}},
  "text":{"field":"t"}}},
 {"data":{"values":[{"x1":257.24,"x2":269.24,"y1":0.980296,"y2":0.979407}]},"mark":{"type":"rect","fill":"#111111"},"encoding":{
  "x":{"field":"x1","type":"quantitative","scale":{"domain":[-19.32,256.95],"nice":false,"zero":false},"axis":{"values":[0,24,48,72,96,120,144,168,192,216,240],"labelExpr":"['15','16','17','20','21','22','23','24','27','28','29'][round(datum.value/24)]","labelPadding":3,"title":null}},"x2":{"field":"x2"},
  "y":{"field":"y1","type":"quantitative","scale":{"domain":[0.95763,0.983037],"nice":false,"zero":false},"axis":{"orient":"right","values":[0.958,0.96,0.962,0.964,0.966,0.968,0.97,0.972,0.974,0.976,0.978,0.982],"format":".5f","labelPadding":3,"title":null}},"y2":{"field":"y2"}}},
 {"data":{"values":[{"h":258.3,"p":0.97984,"t":"0.97984"}]},"mark":{"type":"text","align":"left","baseline":"middle","font":"Roboto","fontSize":9.5,"color":"#ffffff"},"encoding":{
  "x":{"field":"h","type":"quantitative","scale":{"domain":[-19.32,256.95],"nice":false,"zero":false},"axis":{"values":[0,24,48,72,96,120,144,168,192,216,240],"labelExpr":"['15','16','17','20','21','22','23','24','27','28','29'][round(datum.value/24)]","labelPadding":3,"title":null}},
  "y":{"field":"p","type":"quantitative","scale":{"domain":[0.95763,0.983037],"nice":false,"zero":false},"axis":{"orient":"right","values":[0.958,0.96,0.962,0.964,0.966,0.968,0.97,0.972,0.974,0.976,0.978,0.982],"format":".5f","labelPadding":3,"title":null}},
  "text":{"field":"t"}}},
 {"data":{"values":[{"x1":-19.32,"x2":271.58,"y1":0.983037,"y2":0.956074}]},"mark":{"type":"rect","fill":"#ffffff","fillOpacity":0,"stroke":"#9a9a9a","strokeWidth":1},"encoding":{
  "x":{"field":"x1","type":"quantitative","scale":{"domain":[-19.32,256.95],"nice":false,"zero":false},"axis":{"values":[0,24,48,72,96,120,144,168,192,216,240],"labelExpr":"['15','16','17','20','21','22','23','24','27','28','29'][round(datum.value/24)]","labelPadding":3,"title":null}},"x2":{"field":"x2"},
  "y":{"field":"y1","type":"quantitative","scale":{"domain":[0.95763,0.983037],"nice":false,"zero":false},"axis":{"orient":"right","values":[0.958,0.96,0.962,0.964,0.966,0.968,0.97,0.972,0.974,0.976,0.978,0.982],"format":".5f","labelPadding":3,"title":null}},"y2":{"field":"y2"}}},
 {"data":{"values":[{"x1":256.95,"x2":271.58,"y1":0.95763,"y2":0.95763},{"x1":256.95,"x2":256.95,"y1":0.95763,"y2":0.956074}]},"mark":{"type":"rule","color":"#9a9a9a","strokeWidth":1},"encoding":{
  "x":{"field":"x1","type":"quantitative","scale":{"domain":[-19.32,256.95],"nice":false,"zero":false},"axis":{"values":[0,24,48,72,96,120,144,168,192,216,240],"labelExpr":"['15','16','17','20','21','22','23','24','27','28','29'][round(datum.value/24)]","labelPadding":3,"title":null}},"x2":{"field":"x2"},
  "y":{"field":"y1","type":"quantitative","scale":{"domain":[0.95763,0.983037],"nice":false,"zero":false},"axis":{"orient":"right","values":[0.958,0.96,0.962,0.964,0.966,0.968,0.97,0.972,0.974,0.976,0.978,0.982],"format":".5f","labelPadding":3,"title":null}},"y2":{"field":"y2"}}}
]}
],
"resolve":{"scale":{"y":"independent"}}
}
